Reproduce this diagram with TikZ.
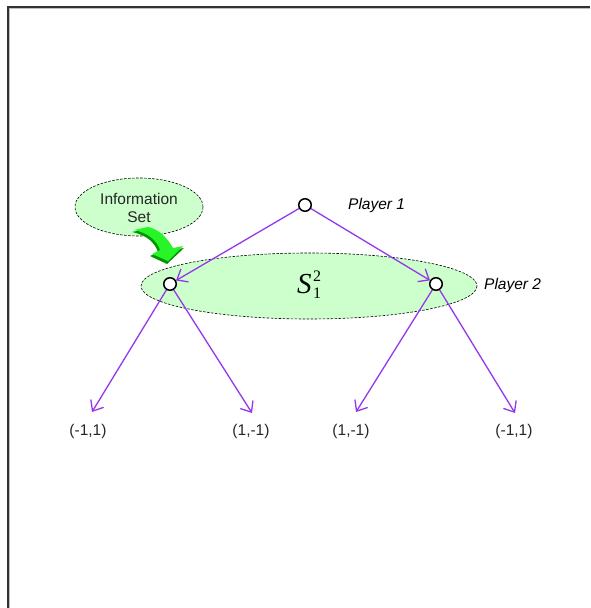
\documentclass[tikz,border=0pt]{standalone}
\usepackage{fontspec}
\setmainfont{Liberation Sans}
\newfontfamily\serifS{Liberation Serif}
\usetikzlibrary{arrows.meta}
\definecolor{setgreen}{RGB}{204,255,204}
\definecolor{edgepurple}{RGB}{150,55,235}
\definecolor{arrowgreen}{RGB}{40,245,40}
\definecolor{arrowdark}{RGB}{0,150,0}
\definecolor{framegray}{RGB}{50,50,50}
\tikzset{
  x=1pt, y=-1pt,
  treenode/.style={circle, draw=black, fill=white, line width=1.5pt, minimum size=12.5pt, inner sep=0pt},
  infoset/.style={draw=black, dashed, dash pattern=on 2.5pt off 1.5pt, line width=0.6pt, fill=setgreen},
  move/.style={draw=edgepurple, line width=1.3pt, -{Straight Barb[length=9pt,width=15pt,line width=1.3pt]}},
  lbl/.style={font=\fontsize{15.5}{18}\selectfont, inner sep=0pt, text=black!85},
  plbl/.style={font=\fontsize{15.5}{18}\selectfont\itshape, inner sep=0pt, anchor=west}
}
\begin{document}
\begin{tikzpicture}
\useasboundingbox (0,0) rectangle (590,608);
\fill[white] (0,0) rectangle (590,608);
% frame
\draw[framegray, line width=2pt] (8,608) -- (8,7) -- (590,7);
\draw[black!25, line width=0.8pt] (9.8,608) -- (9.8,8.8) -- (590,8.8);
% information sets
\draw[infoset] (139,207) ellipse [x radius=64, y radius=29];
\draw[infoset] (309,286) ellipse [x radius=168, y radius=33];
\node[lbl, align=center, font=\fontsize{15.5}{18.5}\selectfont] (info) at (139,208) {Information\\Set};
% green curved arrow
\fill[arrowdark] (132,232) .. controls (147,235) and (155,243) .. (158,252) -- (150,256) -- (167,264) -- (184,248) -- (172,250) .. controls (166,239) and (157,231) .. (146,229) -- cycle;
\fill[arrowgreen] (134,230) .. controls (149,233) and (157,241) .. (160,250) -- (152,254) -- (168,261) -- (183,246) -- (173,248) .. controls (167,237) and (158,229) .. (148,227) -- cycle;
% nodes
\node[treenode] (root) at (305,205) {};
\node[treenode] (left) at (170,284) {};
\node[treenode] (right) at (436,284) {};
\coordinate (l1) at (92,412);
\coordinate (l2) at (252,413);
\coordinate (l3) at (356,412);
\coordinate (l4) at (515,413);
% edges
\draw[move] (root) -- (left);
\draw[move] (root) -- (right);
\draw[move] (left) -- (l1);
\draw[move] (left) -- (l2);
\draw[move] (right) -- (l3);
\draw[move] (right) -- (l4);
% payoffs
\node[lbl] (p1) at (88,431) {(-1,1)};
\node[lbl] (p2) at (251,431) {(1,-1)};
\node[lbl] (p3) at (351,431) {(1,-1)};
\node[lbl] (p4) at (514,431) {(-1,1)};
% player labels
\node[plbl] (pl1) at (348,205) {Player 1};
\node[plbl] (pl2) at (484,285) {Player 2};
% S_1^2
\node[inner sep=0pt, anchor=base west] (S) at (297,293) {\serifS\fontsize{29}{30}\selectfont\itshape S\kern1.5pt\upshape\fontsize{16}{16}\selectfont\makebox[0pt][l]{\raisebox{-5.5pt}{1}}\raisebox{11.5pt}{2}};
\end{tikzpicture}
\end{document}
